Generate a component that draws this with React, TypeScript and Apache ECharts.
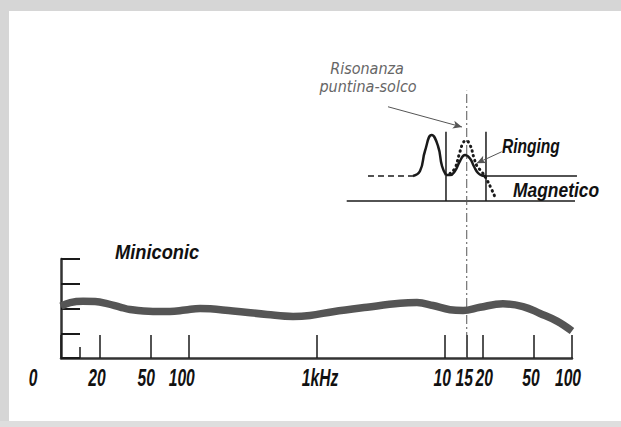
import React, { useEffect, useRef } from 'react';
import * as echarts from 'echarts';

// Main x axis (log frequency, Hz)
const tickFreqs = [10, 20, 50, 100, 1000, 10000, 15000, 20000, 50000, 100000];
const tickLabels = ['0', '20', '50', '100', '1kHz', '10', '15', '20', '50', '100'];
const shortTickFreqs = [14];

// Miniconic response curve: [frequency Hz, level]
const miniconicFreq = [10, 11.8, 14.9, 18.5, 22.9, 29, 34.7, 52.5, 71.3, 93.5, 122.5, 222, 410, 655, 889, 1346, 2486, 4504, 6118, 8164, 11090, 14030, 19050, 28830, 41340, 56170, 76290, 100000];
const miniconicLevel = [2.1, 2.24, 2.29, 2.28, 2.2, 2.06, 1.96, 1.88, 1.88, 1.94, 2.0, 1.9, 1.76, 1.68, 1.72, 1.87, 2.05, 2.21, 2.24, 2.12, 1.95, 1.92, 2.05, 2.19, 2.08, 1.8, 1.49, 1.09];

// Inset (magnetic cartridge sketch): [frequency Hz, level]
const insetBottomLine = [[1724, 0], [105600, 0]];
const insetDashedBase = [[2530, 1], [5693, 1]];
const insetLeftBump = [[5693, 1], [6460, 1.2], [7068, 2.0], [7977, 2.64], [8936, 2.2], [9603, 1.4], [10320, 1.04]];
const insetMiddleBump = [[10320, 1.04], [11090, 1.04], [12140, 1.2], [13290, 1.6], [14540, 1.84], [15910, 1.7], [17100, 1.38], [18380, 1.12], [19750, 1.02], [21220, 1.0]];
const insetUpperLine = [[21220, 1], [109400, 1]];
const insetLeftWall = [[10320, 0], [10320, 2.77]];
const insetRightWall = [[21220, 0], [21220, 2.77]];
const insetRinging = [[11090, 1.1], [12140, 1.32], [13050, 1.84], [14030, 2.32], [14800, 2.41], [15910, 2.24], [17100, 1.72], [18050, 1.4], [19750, 1.16], [21610, 0.84], [23220, 0.52], [24970, 0.16]];
const resonanceFreq = 15000;
const resonanceSpan = [0, 10.8];
const arrowResonance = [[3628, 3.77], [13770, 2.96]];
const arrowRinging = [[28160, 1.97], [17950, 1.51]];

// layout: horizontal nudges of the hand-lettered tick labels (px)
const labelNudge = [-28, -2.5, -4, -7, 3.5, -2, -2.5, 1.5, -2.5, -4];

const boldFont = "'Liberation Sans', Arial, sans-serif";
const thinFont = "'DejaVu Sans Condensed', 'DejaVu Sans', sans-serif";

export default function App() {
  const ref = useRef<HTMLDivElement>(null);
  useEffect(() => {
    document.body.style.margin = '0';
    document.body.style.overflow = 'hidden';
    const chart = echarts.init(ref.current!, null, { renderer: 'svg' });
    const black = '#1a1a1a';
    const bold = (text: string, x: number, y: number, size: number, sx: number) => ({
      type: 'text', x, y, scaleX: sx, scaleY: 1,
      style: { text, fontFamily: boldFont, fontStyle: 'italic', fontWeight: 'bold', fontSize: size, fill: '#111', textAlign: 'left', textVerticalAlign: 'middle' },
    });
    const baseGraphic: any[] = [
      { type: 'rect', shape: { x: 0, y: 0, width: 621, height: 11 }, style: { fill: '#d6d6d6' }, silent: true },
      { type: 'rect', shape: { x: 0, y: 0, width: 9, height: 427 }, style: { fill: '#d6d6d6' }, silent: true },
      { type: 'rect', shape: { x: 0, y: 421, width: 621, height: 6 }, style: { fill: '#dedede' }, silent: true },
      { type: 'text', x: 367, y: 68, style: { text: 'Risonanza', fontFamily: thinFont, fontStyle: 'italic', fontSize: 16, fill: '#666', textAlign: 'center', textVerticalAlign: 'middle' } },
      { type: 'text', x: 368, y: 86, style: { text: 'puntina-solco', fontFamily: thinFont, fontStyle: 'italic', fontSize: 16, fill: '#666', textAlign: 'center', textVerticalAlign: 'middle' } },
      bold('Ringing', 502, 146, 21, 0.74),
      bold('Magnetico', 513, 190, 21, 0.83),
      bold('Miniconic', 115, 252, 21, 0.87),
    ];
    const option: any = {
      animation: false,
      backgroundColor: '#ffffff',
      grid: [
        { left: 61, right: 49, top: 259, bottom: 69 },
        { left: 61, right: 38.9, top: 76, bottom: 226 },
      ],
      xAxis: [
        {
          type: 'log', gridIndex: 0, min: 10, max: 100000, position: 'bottom',
          axisLine: { show: true, lineStyle: { color: '#333', width: 2.5 } },
          axisTick: { show: true, inside: true, length: 23, customValues: tickFreqs, lineStyle: { color: black, width: 1.5 } },
          axisLabel: { show: false },
          splitLine: { show: false },
          minorTick: { show: false },
        },
        {
          type: 'log', gridIndex: 0, min: 10, max: 100000, position: 'bottom', offset: 0,
          axisLine: { show: false },
          axisTick: { show: true, inside: true, length: 11, customValues: shortTickFreqs, lineStyle: { color: black, width: 1.5 } },
          axisLabel: { show: false },
          splitLine: { show: false },
        },
        {
          type: 'log', gridIndex: 1, min: 10, max: 120000, show: false,
          splitLine: { show: false },
        },
      ],
      yAxis: [
        {
          type: 'value', gridIndex: 0, min: 0, max: 4, interval: 1,
          axisLine: { show: true, lineStyle: { color: '#333', width: 2.5 } },
          axisTick: { show: true, inside: true, length: 19, lineStyle: { color: black, width: 2 } },
          axisLabel: { show: false },
          splitLine: { show: false },
        },
        { type: 'value', gridIndex: 1, min: 0, max: 5, show: false, splitLine: { show: false } },
      ],
      series: [
        {
          name: 'Miniconic', type: 'line', xAxisIndex: 0, yAxisIndex: 0,
          data: miniconicFreq.map((f, i) => [f, miniconicLevel[i]]),
          smooth: 0.4, showSymbol: false, z: 3,
          lineStyle: { color: '#555555', width: 7.5 },
        },
        {
          name: 'resonance', type: 'line', xAxisIndex: 0, yAxisIndex: 0, clip: false,
          data: resonanceSpan.map((v) => [resonanceFreq, v]),
          showSymbol: false, z: 4,
          lineStyle: { color: '#555', width: 1, type: [9, 3, 2, 3] },
        },
        { type: 'line', xAxisIndex: 2, yAxisIndex: 1, clip: false, data: insetBottomLine, showSymbol: false, lineStyle: { color: black, width: 1.5 } },
        { type: 'line', xAxisIndex: 2, yAxisIndex: 1, clip: false, data: insetDashedBase, showSymbol: false, lineStyle: { color: black, width: 1.5, type: [6, 4] } },
        { type: 'line', xAxisIndex: 2, yAxisIndex: 1, clip: false, data: insetLeftBump, smooth: 0.5, showSymbol: false, lineStyle: { color: black, width: 2.5 } },
        { type: 'line', xAxisIndex: 2, yAxisIndex: 1, clip: false, data: insetMiddleBump, smooth: 0.5, showSymbol: false, lineStyle: { color: black, width: 2.5 } },
        { type: 'line', xAxisIndex: 2, yAxisIndex: 1, clip: false, data: insetUpperLine, showSymbol: false, lineStyle: { color: black, width: 1.5 } },
        { type: 'line', xAxisIndex: 2, yAxisIndex: 1, clip: false, data: insetLeftWall, showSymbol: false, lineStyle: { color: black, width: 1.5 } },
        { type: 'line', xAxisIndex: 2, yAxisIndex: 1, clip: false, data: insetRightWall, showSymbol: false, lineStyle: { color: black, width: 1.5 } },
        {
          type: 'line', xAxisIndex: 2, yAxisIndex: 1, clip: false, data: insetRinging, smooth: 0.5, showSymbol: false,
          lineStyle: { color: black, width: 3, type: [0.5, 4.5], cap: 'round' },
        },
        {
          type: 'line', xAxisIndex: 2, yAxisIndex: 1, data: [], silent: true,
          markLine: {
            silent: true, symbol: ['none', 'arrow'], symbolSize: [6, 9], label: { show: false },
            lineStyle: { color: '#555', width: 1, type: 'solid' },
            data: [
              [{ coord: arrowResonance[0] }, { coord: arrowResonance[1] }],
              [{ coord: arrowRinging[0] }, { coord: arrowRinging[1] }],
            ],
          },
        },
      ],
      graphic: baseGraphic,
    };
    chart.setOption(option);

    // Tick labels placed through the axis scale (condensed italic like the original lettering)
    const axisY = chart.convertToPixel({ yAxisIndex: 0 }, 0) as number;
    const labelGraphic = tickFreqs.map((f, i) => {
      const x = (chart.convertToPixel({ xAxisIndex: 0 }, f) as number) + labelNudge[i];
      return {
        type: 'text', x, y: axisY + 20, scaleX: 0.68, scaleY: 1,
        style: { text: tickLabels[i], fontFamily: boldFont, fontStyle: 'italic', fontWeight: 'bold', fontSize: 23, fill: '#111', textAlign: 'center', textVerticalAlign: 'middle' },
      };
    });
    chart.setOption({ graphic: baseGraphic.concat(labelGraphic) });
    return () => chart.dispose();
  }, []);
  return <div ref={ref} style={{ position: 'fixed', left: 0, top: 0, width: 621, height: 427, background: '#fff' }} />;
}
